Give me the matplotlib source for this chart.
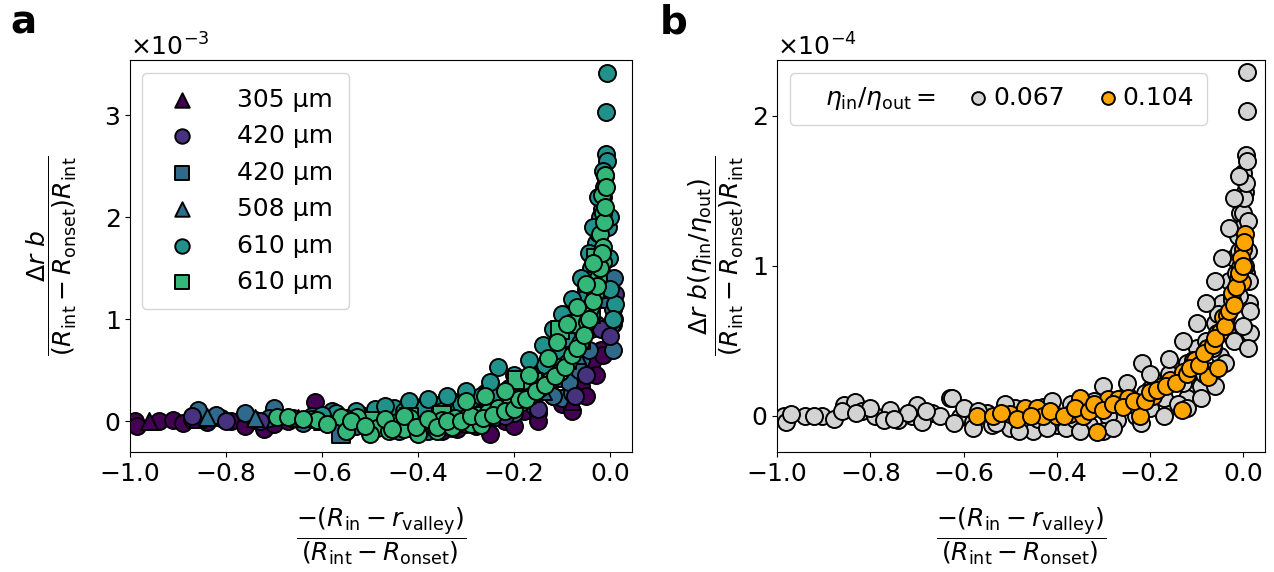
import matplotlib
matplotlib.use("Agg")
import matplotlib.pyplot as plt
from matplotlib.lines import Line2D

plt.rcParams['font.size'] = 18
plt.rcParams['mathtext.fontset'] = 'dejavusans'

# ---------------- panel a (y values in units of 1e-3) ----------------
SCALE_A = 1e-3

# labelled series (legend entries)
TRI305_X = [-0.96, -0.86, -0.65, -0.08]
TRI305_Y = [0.0, 0.02, 0.03, 0.2]

CIRC420_X = [-0.87, -0.80, -0.73, -0.66, -0.52, -0.45, -0.38, -0.30, -0.22, -0.15,
             -0.073, -0.05, -0.02, 0.0, 0.008, 0.01]
CIRC420_Y = [0.05, 0.0, 0.0, 0.03, 0.06, -0.04, -0.05, -0.03, 0.05, 0.12,
             0.25, 0.45, 0.9, 0.84, 1.0, 1.25]

SQ420_X = [-0.56, -0.48, -0.40, -0.33, -0.27, -0.21, -0.16, -0.12, -0.09, -0.06, -0.04, -0.025]
SQ420_Y = [-0.12, -0.06, -0.02, 0.0, 0.06, 0.18, 0.28, 0.42, 0.6, 0.8, 1.05, 1.3]

TRI508_X = [-0.84, -0.74, -0.6, -0.4, -0.25, -0.14, -0.07, -0.035]
TRI508_Y = [0.04, 0.03, 0.0, 0.02, 0.1, 0.3, 0.65, 1.2]

CIRC610_X = [-0.62, -0.57, -0.53, -0.49, -0.45, -0.41, -0.37, -0.33, -0.29, -0.26,
             -0.233, -0.21, -0.18, -0.15, -0.12, -0.10, -0.08, -0.065, -0.05, -0.04,
             -0.03, -0.022, -0.016, -0.012, -0.009, -0.008, -0.006, -0.006, 0.01, -0.005,
             -0.6, -0.55, -0.47, -0.43, -0.39, -0.35, -0.31, -0.27, -0.24, -0.19,
             -0.165, -0.135, -0.11, -0.09, -0.07, -0.055, -0.045, -0.035, -0.025, -0.018,
             -0.013, -0.003, 0.0, 0.005, -0.001, -0.42, -0.38, -0.34, -0.3, -0.25,
             -0.2, -0.17, -0.14, -0.12, -0.1, -0.08, -0.06, -0.045, -0.035, -0.025,
             -0.015]
CIRC610_Y = [0.02, 0.08, 0.1, 0.12, 0.13, 0.15, 0.17, 0.2, 0.22, 0.28,
             0.53, 0.33, 0.4, 0.5, 0.62, 0.75, 0.92, 1.1, 1.3, 1.5,
             1.75, 2.0, 2.2, 2.4, 2.62, 3.03, 3.41, 2.55, 1.15, 1.9,
             0.06, 0.03, 0.15, 0.1, 0.12, 0.1, 0.17, 0.25, 0.25, 0.38,
             0.45, 0.55, 0.7, 0.82, 1.0, 1.2, 1.38, 1.62, 1.85, 2.08,
             2.3, 1.6, 1.3, 1.0, 2.0, 0.2, 0.22, 0.25, 0.3, 0.38,
             0.45, 0.6, 0.75, 0.9, 1.05, 1.2, 1.4, 1.65, 1.9, 2.2,
             2.45]

SQ610_X = [-0.5, -0.42, -0.35, -0.194, -0.16, -0.104, -0.07, -0.03]
SQ610_Y = [0.0, 0.04, 0.06, 0.40, 0.38, 0.89, 0.95, 1.6]

# extra circles seen in the plot but not listed in the legend
PURPLE_X = [-0.99, -0.985, -0.94, -0.91, -0.89, -0.87, -0.84, -0.81, -0.79, -0.76,
            -0.74, -0.72, -0.70, -0.67, -0.615, -0.60, -0.55, -0.50, -0.42, -0.32,
            -0.25, -0.18, -0.12, -0.0375, -0.45, -0.35, -0.28, -0.22, -0.15, -0.1,
            -0.06, -0.02, 0.005, -0.25, -0.2, -0.15, -0.08, -0.05, -0.03, -0.015]
PURPLE_Y = [0.0, -0.05, 0.0, 0.01, -0.02, 0.02, -0.01, 0.03, 0.0, -0.05,
            0.01, -0.08, -0.03, 0.0, 0.19, 0.05, 0.02, -0.05, -0.06, -0.08,
            0.02, 0.1, 0.25, 0.58, -0.08, -0.1, -0.05, 0.0, 0.08, 0.17,
            0.35, 0.7, 0.95, -0.12, -0.05, 0.0, 0.1, 0.25, 0.45, 0.65]

BLUE_X = [-0.858, -0.82, -0.76, -0.70, -0.71, -0.64, -0.58, -0.53, -0.47, -0.41,
          -0.36, -0.31, -0.26, -0.22, -0.17, -0.13, -0.10, -0.079, -0.094, -0.06,
          -0.04, -0.02, 0.005, -0.62, -0.55, -0.5, -0.44, -0.38, -0.33, -0.28,
          -0.24, -0.2, -0.16, -0.12, -0.085, -0.065, -0.045, -0.03, -0.015, -0.005,
          0.003, 0.008, 0.005]
BLUE_Y = [0.11, 0.06, 0.08, 0.13, 0.03, -0.02, 0.10, -0.05, 0.0, -0.08,
          -0.04, -0.02, 0.05, 0.1, 0.2, 0.3, 0.23, 0.28, 1.04, 0.6,
          0.9, 1.3, 1.1, 0.05, -0.1, -0.07, -0.1, -0.1, -0.07, 0.0,
          0.04, 0.08, 0.16, 0.25, 0.38, 0.5, 0.7, 0.95, 1.2, 1.4,
          0.95, 1.4, 0.7]

GREEN_X = [-0.694, -0.67, -0.61, -0.56, -0.527, -0.485, -0.444, -0.417, -0.392, -0.37,
           -0.35, -0.323, -0.298, -0.275, -0.254, -0.233, -0.208, -0.183, -0.167, -0.146,
           -0.125, -0.104, -0.087, -0.0625, -0.048, -0.042, -0.031, -0.025, -0.015, -0.021,
           -0.015, -0.015, -0.017, -0.012, -0.55, -0.5, -0.46, -0.43, -0.40, -0.36,
           -0.33, -0.29, -0.27, -0.64, -0.59, -0.54, -0.51, -0.47, -0.455, -0.43,
           -0.405, -0.38, -0.36, -0.34, -0.31, -0.29, -0.265, -0.245, -0.22, -0.2,
           -0.19, -0.175, -0.155, -0.135, -0.115, -0.095, -0.08, -0.07, -0.055, -0.045,
           -0.035, -0.028, -0.022, -0.018, -0.013, -0.01, -0.008, -0.3, -0.26, -0.22,
           -0.17, -0.13, -0.11, -0.09, -0.07, -0.05, -0.035]
GREEN_Y = [0.04, 0.04, 0.01, 0.04, 0.04, -0.07, -0.01, 0.03, -0.04, -0.02,
           0.01, 0.03, 0.04, 0.06, 0.09, 0.13, 0.16, 0.19, 0.25, 0.33,
           0.40, 0.48, 0.58, 0.77, 0.97, 1.11, 1.25, 1.40, 1.56, 1.84,
           1.71, 2.04, 2.22, 2.41, -0.1, -0.12, -0.1, -0.08, -0.12, -0.1,
           -0.06, -0.03, -0.04, 0.02, -0.03, 0.0, -0.05, 0.02, -0.08, 0.05,
           -0.06, 0.02, -0.06, 0.0, 0.0, 0.05, 0.03, 0.06, 0.1, 0.12,
           0.22, 0.22, 0.3, 0.36, 0.44, 0.53, 0.65, 0.72, 0.85, 1.0,
           1.18, 1.33, 1.5, 1.65, 1.95, 2.1, 2.3, 0.2, 0.25, 0.3,
           0.45, 0.62, 0.78, 0.95, 1.12, 1.35, 1.55]

LABELS_A = ['305 µm', '420 µm', '420 µm', '508 µm', '610 µm', '610 µm']
MARKERS_A = ['^', 'o', 's', '^', 'o', 's']
COLORS_A = ['#440154', '#46327e', '#2f6a8d', '#2c6e8e', '#21918c', '#35b779']

# ---------------- panel b (y values in units of 1e-4) ----------------
SCALE_B = 1e-4

GRAY_X = [-0.985, -0.98, -0.94, -0.903, -0.878, -0.856, -0.832, -0.818, -0.79, -0.757,
          -0.74, -0.71, -0.70, -0.667, -0.63, -0.625, -0.607, -0.58, -0.55, -0.52,
          -0.49, -0.46, -0.43, -0.40, -0.37, -0.34, -0.31, -0.28, -0.25, -0.217,
          -0.2, -0.18, -0.16, -0.14, -0.12, -0.10, -0.08, -0.06, -0.045, -0.03,
          -0.02, -0.012, -0.006, 0.009, 0.009, 0.007, 0.0, 0.004, 0.0, 0.015,
          0.006, -0.15, -0.12, -0.09, -0.07, -0.05, -0.035, 0.012, 0.01, -0.5,
          -0.45, -0.38, -0.33, -0.27, -0.23, -0.97, -0.92, -0.86, -0.8, -0.77,
          -0.72, -0.69, -0.65, -0.6, -0.57, -0.54, -0.51, -0.47, -0.44, -0.41,
          -0.36, -0.32, -0.29, -0.26, -0.24, -0.21, -0.19, -0.17, -0.13, -0.11,
          -0.095, -0.085, -0.065, -0.055, -0.04, -0.025, -0.015, -0.008, -0.003, 0.002,
          0.005, 0.008, 0.003, -0.01, 0.01, 0.014, -0.3, -0.2, -0.14, -0.16,
          -0.3, -0.25, -0.2, -0.16, -0.13, -0.1, -0.08, -0.06, -0.045, -0.03,
          -0.02, -0.01, -0.28, -0.22, -0.17, -0.12, -0.09, -0.06, -0.04, -0.02,
          0.0, 0.012, 0.01, -0.58, -0.53, -0.48, -0.42, -0.35, -0.62, -0.68,
          -0.75, -0.83]
GRAY_Y = [0.0, -0.04, 0.0, 0.0, -0.02, 0.07, 0.09, 0.03, 0.0, 0.04,
          -0.03, 0.0, 0.07, 0.02, 0.12, 0.12, -0.01, -0.04, 0.02, 0.0,
          0.05, -0.05, 0.06, -0.06, 0.08, -0.04, 0.09, 0.04, 0.14, 0.35,
          0.18, 0.22, 0.25, 0.3, 0.35, 0.45, 0.5, 0.62, 0.75, 0.9,
          1.05, 1.2, 1.35, 2.29, 2.03, 1.74, 1.62, 1.49, 1.35, 0.55,
          0.95, 0.07, 0.12, 0.2, 0.3, 0.4, 0.55, 0.75, 1.1, -0.08,
          -0.1, -0.08, -0.06, -0.03, 0.0, 0.01, 0.0, 0.03, 0.05, -0.03,
          0.02, -0.04, 0.0, 0.05, 0.03, -0.06, 0.08, 0.03, -0.02, 0.1,
          -0.02, 0.1, 0.0, 0.12, 0.08, 0.15, 0.2, 0.12, 0.22, 0.3,
          0.38, 0.28, 0.45, 0.68, 0.62, 0.8, 0.95, 1.1, 1.25, 1.45,
          1.55, 1.7, 1.0, 0.8, 1.3, 0.7, -0.1, 0.05, 0.08, 0.28,
          0.2, 0.22, 0.28, 0.38, 0.5, 0.62, 0.75, 0.9, 1.05, 1.25,
          1.45, 1.6, -0.08, -0.05, 0.0, 0.05, 0.12, 0.2, 0.35, 0.5,
          0.6, 0.9, 0.45, -0.08, -0.05, -0.1, -0.08, -0.1, -0.05, 0.03,
          -0.02, 0.02]

ORANGE_X = [-0.571, -0.536, -0.5, -0.468, -0.442, -0.43, -0.4, -0.371, -0.35, -0.343,
            -0.313, -0.307, -0.29, -0.268, -0.247, -0.221, -0.193, -0.175, -0.157, -0.131,
            -0.129, -0.107, -0.103, -0.077, -0.075, -0.056, -0.054, -0.049, -0.043, -0.034,
            -0.024, -0.024, -0.011, -0.006, -0.003, 0.0, 0.004, -0.52, -0.485, -0.455,
            -0.415, -0.385, -0.36, -0.33, -0.32, -0.3, -0.28, -0.257, -0.235, -0.21,
            -0.2, -0.185, -0.165, -0.145, -0.12, -0.115, -0.095, -0.085, -0.065, -0.06,
            -0.04, -0.03, -0.02, -0.015, -0.009, -0.004, -0.001, 0.002]
ORANGE_Y = [0.0, 0.0, 0.01, 0.05, 0.05, 0.0, 0.0, 0.01, 0.12, 0.0,
            -0.11, 0.06, 0.11, 0.11, 0.12, 0.0, 0.13, 0.2, 0.24, 0.04,
            0.29, 0.37, 0.37, 0.45, 0.26, 0.55, 0.32, 0.56, 0.66, 0.67,
            0.77, 0.82, 0.91, 0.99, 0.89, 1.11, 1.21, 0.02, -0.02, 0.0,
            0.03, 0.0, 0.05, 0.03, 0.08, 0.04, 0.08, 0.06, 0.1, 0.1,
            0.16, 0.17, 0.2, 0.22, 0.28, 0.32, 0.34, 0.42, 0.47, 0.52,
            0.6, 0.7, 0.74, 0.86, 0.95, 1.05, 1.0, 1.16]

LABELS_B = ['0.067', '0.104']
COLORS_B = ['lightgray', 'orange']

MS = 150
EDGE = dict(edgecolors='black', linewidths=1.4)


def scaled(vals, k):
    return [v * k for v in vals]


fig = plt.figure(figsize=(12.74, 5.72), dpi=100)
ax1 = fig.add_axes([0.102, 0.21, 0.394, 0.685])
ax2 = fig.add_axes([0.61, 0.21, 0.383, 0.685])

# panel a: unlabelled circles first, labelled series after, green circles on top
ax1.scatter(PURPLE_X, scaled(PURPLE_Y, SCALE_A), s=MS, marker='o', c=COLORS_A[0], **EDGE)
ax1.scatter(BLUE_X, scaled(BLUE_Y, SCALE_A), s=MS, marker='o', c=COLORS_A[2], **EDGE)
series_a = [(TRI305_X, TRI305_Y), (CIRC420_X, CIRC420_Y), (SQ420_X, SQ420_Y),
            (TRI508_X, TRI508_Y), (CIRC610_X, CIRC610_Y), (SQ610_X, SQ610_Y)]
for (xs, ys), lab, mk, col in zip(series_a, LABELS_A, MARKERS_A, COLORS_A):
    ax1.scatter(xs, scaled(ys, SCALE_A), s=MS, marker=mk, c=col, label=lab, **EDGE)
ax1.scatter(GREEN_X, scaled(GREEN_Y, SCALE_A), s=MS, marker='o', c=COLORS_A[5], **EDGE)

ax1.set_xlim(-1.0, 0.045)
ax1.set_ylim(-0.3e-3, 3.54e-3)
ax1.set_xticks([-1.0, -0.8, -0.6, -0.4, -0.2, 0.0])
ax1.set_yticks([0, 1e-3, 2e-3, 3e-3])
ax1.ticklabel_format(axis='y', style='sci', scilimits=(0, 0), useMathText=True)
ax1.set_xlabel(r'$\dfrac{-(R_\mathrm{in}-r_\mathrm{valley})}{(R_\mathrm{int}-R_\mathrm{onset})}$',
               labelpad=14)
ax1.set_ylabel(r'$\dfrac{\Delta r\ b}{(R_\mathrm{int}-R_\mathrm{onset})R_\mathrm{int}}$',
               labelpad=18)
ax1.legend(loc='upper left', handletextpad=1.2, borderpad=0.6, markerscale=0.85)

# panel b
for xs, ys, lab, col in zip([GRAY_X, ORANGE_X], [GRAY_Y, ORANGE_Y], LABELS_B, COLORS_B):
    ax2.scatter(xs, scaled(ys, SCALE_B), s=MS, marker='o', c=col, label=lab, **EDGE)

ax2.set_xlim(-1.0, 0.047)
ax2.set_ylim(-0.24e-4, 2.37e-4)
ax2.set_xticks([-1.0, -0.8, -0.6, -0.4, -0.2, 0.0])
ax2.set_yticks([0, 1e-4, 2e-4])
ax2.ticklabel_format(axis='y', style='sci', scilimits=(0, 0), useMathText=True)
ax2.set_xlabel(r'$\dfrac{-(R_\mathrm{in}-r_\mathrm{valley})}{(R_\mathrm{int}-R_\mathrm{onset})}$',
               labelpad=14)
ax2.set_ylabel(r'$\dfrac{\Delta r\ b(\eta_\mathrm{in}/\eta_\mathrm{out})}{(R_\mathrm{int}-R_\mathrm{onset})R_\mathrm{int}}$')

handles, labels = ax2.get_legend_handles_labels()
blank = Line2D([], [], linestyle='none')
ax2.legend([blank] + handles, [r'$\eta_\mathrm{in}/\eta_\mathrm{out}=$'] + labels,
           loc='upper left', ncol=3, handletextpad=0.3, columnspacing=1.4,
           handlelength=0.6, borderpad=0.5, markerscale=0.75)

fig.text(0.008, 0.942, 'a', fontsize=28, fontweight='bold', va='baseline')
fig.text(0.518, 0.942, 'b', fontsize=28, fontweight='bold', va='baseline')

fig.savefig('out.png', dpi=100)
